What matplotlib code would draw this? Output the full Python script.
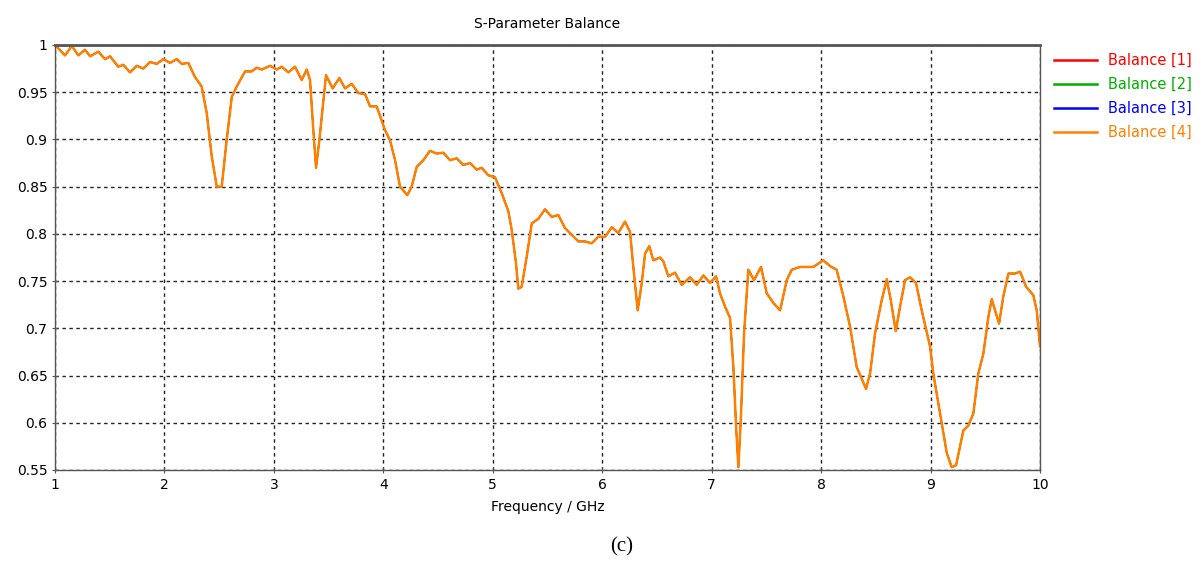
import matplotlib
matplotlib.use("Agg")
import matplotlib.pyplot as plt

# Balance curve (same trace for all four ports)
freq = [1.000, 1.091, 1.153, 1.213, 1.274, 1.320, 1.396, 1.457, 1.503, 1.578,
        1.624, 1.685, 1.747, 1.807, 1.868, 1.929, 1.990, 2.051, 2.112, 2.158,
        2.218, 2.279, 2.340, 2.386, 2.432, 2.478, 2.523, 2.569, 2.615, 2.660,
        2.736, 2.797, 2.843, 2.889, 2.965, 3.026, 3.071, 3.132, 3.193, 3.254,
        3.300, 3.330, 3.360, 3.385, 3.415, 3.476, 3.537, 3.598, 3.650, 3.711,
        3.771, 3.833, 3.878, 3.939, 4.015, 4.061, 4.107, 4.152, 4.219, 4.259,
        4.305, 4.365, 4.426, 4.488, 4.548, 4.609, 4.670, 4.731, 4.792, 4.853,
        4.898, 4.959, 5.020, 5.082, 5.142, 5.173, 5.212, 5.233, 5.264, 5.310,
        5.356, 5.416, 5.477, 5.539, 5.599, 5.660, 5.721, 5.782, 5.843, 5.904,
        5.964, 6.026, 6.087, 6.147, 6.208, 6.254, 6.284, 6.324, 6.361, 6.391,
        6.430, 6.467, 6.528, 6.558, 6.604, 6.665, 6.726, 6.802, 6.863, 6.924,
        6.985, 7.040, 7.076, 7.122, 7.168, 7.198, 7.223, 7.244, 7.266, 7.296,
        7.335, 7.387, 7.451, 7.503, 7.563, 7.625, 7.686, 7.731, 7.807, 7.929,
        8.020, 8.081, 8.142, 8.203, 8.264, 8.325, 8.410, 8.447, 8.493, 8.554,
        8.600, 8.636, 8.682, 8.721, 8.767, 8.812, 8.867, 8.919, 8.995, 9.025,
        9.086, 9.148, 9.193, 9.233, 9.300, 9.345, 9.391, 9.436, 9.482, 9.528,
        9.559, 9.589, 9.626, 9.665, 9.711, 9.772, 9.818, 9.873, 9.939, 9.970,
        10.000]
balance = [1.000, 0.989, 0.999, 0.989, 0.995, 0.988, 0.993, 0.985, 0.988, 0.977,
           0.979, 0.971, 0.978, 0.975, 0.982, 0.980, 0.985, 0.981, 0.985, 0.980,
           0.981, 0.966, 0.956, 0.928, 0.882, 0.850, 0.850, 0.900, 0.945, 0.956,
           0.972, 0.972, 0.976, 0.974, 0.978, 0.974, 0.977, 0.971, 0.977, 0.963,
           0.974, 0.963, 0.910, 0.870, 0.899, 0.968, 0.954, 0.965, 0.954, 0.959,
           0.949, 0.948, 0.935, 0.935, 0.910, 0.899, 0.878, 0.850, 0.841, 0.850,
           0.871, 0.878, 0.888, 0.885, 0.886, 0.878, 0.880, 0.873, 0.875, 0.868,
           0.870, 0.862, 0.860, 0.843, 0.824, 0.804, 0.769, 0.742, 0.744, 0.776,
           0.811, 0.816, 0.826, 0.818, 0.820, 0.806, 0.799, 0.792, 0.792, 0.790,
           0.797, 0.797, 0.807, 0.801, 0.813, 0.802, 0.765, 0.719, 0.748, 0.779,
           0.787, 0.772, 0.775, 0.771, 0.755, 0.759, 0.746, 0.754, 0.746, 0.756,
           0.748, 0.755, 0.737, 0.723, 0.711, 0.659, 0.596, 0.553, 0.603, 0.695,
           0.762, 0.751, 0.765, 0.737, 0.727, 0.719, 0.751, 0.762, 0.765, 0.765,
           0.772, 0.766, 0.762, 0.734, 0.702, 0.659, 0.636, 0.652, 0.695, 0.730,
           0.752, 0.730, 0.697, 0.723, 0.751, 0.754, 0.748, 0.719, 0.681, 0.652,
           0.610, 0.568, 0.553, 0.555, 0.592, 0.597, 0.610, 0.652, 0.673, 0.712,
           0.731, 0.719, 0.705, 0.734, 0.758, 0.758, 0.760, 0.744, 0.735, 0.719,
           0.681]

labels = ["Balance [1]", "Balance [2]", "Balance [3]", "Balance [4]"]
colors = ["#ff0000", "#00b000", "#0000ff", "#ff8000"]

xticks = list(range(1, 11))
yticks = [0.55, 0.6, 0.65, 0.7, 0.75, 0.8, 0.85, 0.9, 0.95, 1.0]
ytick_labels = ["0.55", "0.6", "0.65", "0.7", "0.75", "0.8", "0.85", "0.9", "0.95", "1"]

plt.rcParams['font.family'] = ['DejaVu Sans']

fig = plt.figure(figsize=(12.04, 5.63), dpi=100)
ax = fig.add_axes([0.0457, 0.1652, 0.8181, 0.7549])

# ports 1-3 lie under port 4, draw them thinner so no coloured fringe shows
for i, (lab, col) in enumerate(zip(labels, colors)):
    lw = 1.8 if i == 3 else 1.0
    ax.plot(freq, balance, color=col, lw=lw, label=lab, solid_joinstyle='round')

ax.set_xlim(1, 10)
ax.set_ylim(0.55, 1.0)
ax.set_xticks(xticks)
ax.set_yticks(yticks)
ax.set_yticklabels(ytick_labels)
ax.tick_params(labelsize=10, length=4, width=0.8, color='#555555', direction='inout')
ax.grid(True, color='#222222', linestyle=(0, (2.5, 2.5)), linewidth=1.0)

for side in ['left', 'bottom', 'right']:
    ax.spines[side].set_color('#555555')
    ax.spines[side].set_linewidth(1.0)
ax.spines['top'].set_color('#555555')
ax.spines['top'].set_linewidth(2.0)

ax.set_title("S-Parameter Balance", fontsize=10, pad=12)
ax.set_xlabel("Frequency / GHz", fontsize=10, labelpad=6)

leg = ax.legend(loc='upper left', bbox_to_anchor=(1.008, 0.995), frameon=False,
                fontsize=10.5, handlelength=3.0, handletextpad=0.7,
                labelspacing=0.62, borderaxespad=0)
for txt, h, col in zip(leg.get_texts(), leg.legend_handles, colors):
    txt.set_color(col)
    h.set_linewidth(1.8)

fig.text(0.516, 0.02, "(c)", family='Liberation Serif', fontsize=15, ha='center')

fig.savefig("out.png", dpi=100)
